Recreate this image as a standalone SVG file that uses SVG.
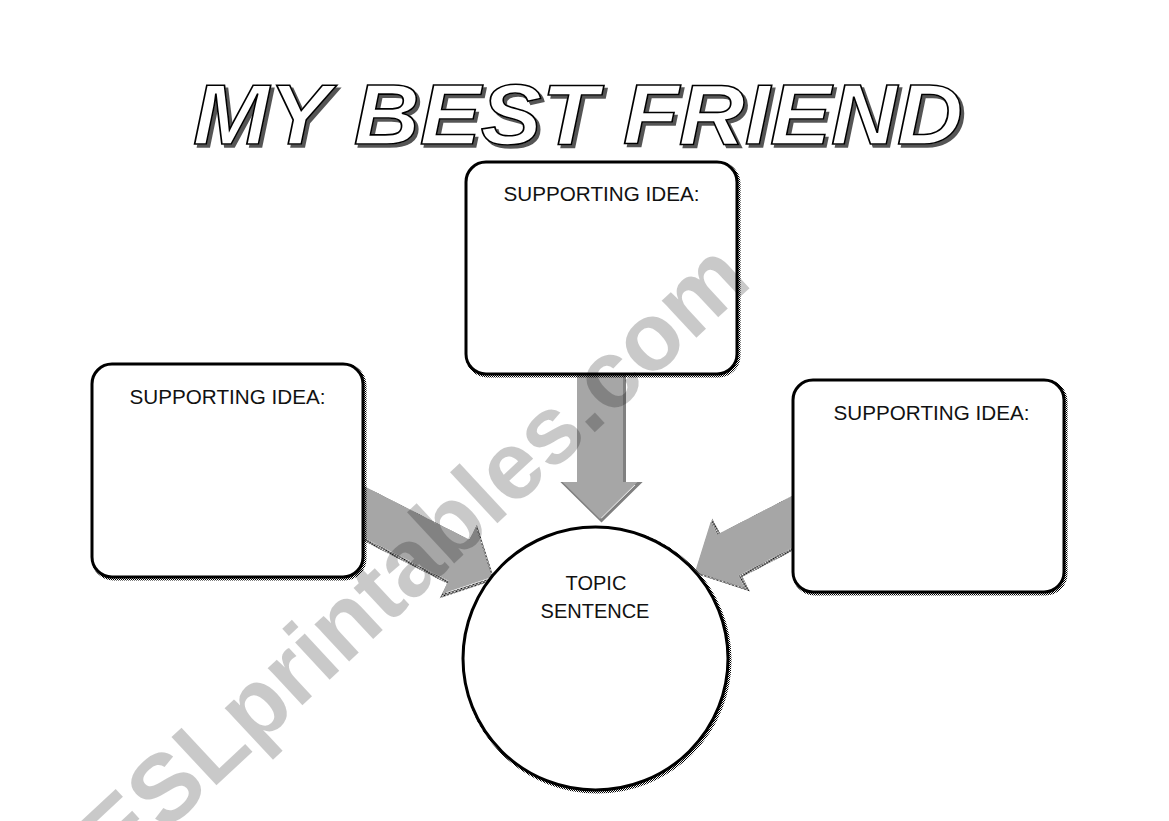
<svg xmlns="http://www.w3.org/2000/svg" width="1169" height="821" viewBox="0 0 1169 821">
  <defs>
    <pattern id="dots" width="2" height="2" patternUnits="userSpaceOnUse">
      <rect x="0" y="0" width="1" height="1" fill="#000"/>
      <rect x="1" y="1" width="1" height="1" fill="#000"/>
    </pattern>
    <filter id="titleShadow" x="-5%" y="-20%" width="110%" height="150%">
      <feOffset in="SourceAlpha" dx="3" dy="3" result="off"/>
      <feFlood flood-color="#555" result="col"/>
      <feComposite in="col" in2="off" operator="in" result="sh"/>
      <feMerge>
        <feMergeNode in="sh"/>
        <feMergeNode in="SourceGraphic"/>
      </feMerge>
    </filter>
    <path id="arrowShape" d="M -160,-23 H -37 V -37.5 L 0,0 L -37,37.5 V 23 H -160 Z"/>
    <style>
      .box { fill: #fff; stroke: #000; stroke-width: 3; }
      .shadow { fill: none; stroke: url(#dots); stroke-width: 4; }
      .arrow { fill: #a6a6a6; stroke: none; }
      .arrowShadow { fill: none; stroke: url(#dots); stroke-width: 3; }
      .label { font-family: "Liberation Sans", Arial, sans-serif; font-size: 20px; fill: #111; text-anchor: middle; }
      .title { font-family: "Liberation Sans", Arial, sans-serif; font-weight: bold; font-style: italic; font-size: 86px; fill: #fff; stroke: #000; stroke-width: 1.6; }
      .wm { font-family: "Liberation Sans", Arial, sans-serif; font-weight: bold; font-size: 96px; fill: #000; fill-opacity: 0.21; }
    </style>
  </defs>
  <rect width="1169" height="821" fill="#fff"/>

  <g id="title">
    <text class="title" x="193" y="144" textLength="770" lengthAdjust="spacingAndGlyphs" filter="url(#titleShadow)">MY BEST FRIEND</text>
  </g>

  <g id="connectors">
    <g transform="translate(600,519) rotate(90)">
      <use href="#arrowShape" class="arrowShadow" transform="translate(1.5,-1.5)"/>
      <use href="#arrowShape" class="arrow"/>
    </g>
    <g transform="translate(492,577) rotate(26.9)">
      <use href="#arrowShape" class="arrowShadow" transform="translate(1.5,1.5)"/>
      <use href="#arrowShape" class="arrow"/>
    </g>
    <g transform="translate(695,572) rotate(152.7)">
      <use href="#arrowShape" class="arrowShadow" transform="translate(-1.5,-1.5)"/>
      <use href="#arrowShape" class="arrow"/>
    </g>
  </g>

  <g id="node-top">
    <rect class="shadow" x="467.5" y="163.5" width="271" height="212" rx="20"/>
    <rect class="box" x="466" y="162" width="271" height="212" rx="20"/>
    <text class="label" x="601.5" y="201" textLength="196" lengthAdjust="spacingAndGlyphs">SUPPORTING IDEA:</text>
  </g>

  <g id="node-left">
    <rect class="shadow" x="93.5" y="365.5" width="271" height="213" rx="20"/>
    <rect class="box" x="92" y="364" width="271" height="213" rx="20"/>
    <text class="label" x="227.5" y="404" textLength="196" lengthAdjust="spacingAndGlyphs">SUPPORTING IDEA:</text>
  </g>

  <g id="node-right">
    <rect class="shadow" x="794.5" y="381.5" width="271" height="212" rx="20"/>
    <rect class="box" x="793" y="380" width="271" height="212" rx="20"/>
    <text class="label" x="931.5" y="420" textLength="196" lengthAdjust="spacingAndGlyphs">SUPPORTING IDEA:</text>
  </g>

  <g id="node-topic">
    <ellipse class="shadow" cx="597" cy="660" rx="132.5" ry="131.5"/>
    <ellipse class="box" cx="595.5" cy="658.5" rx="132.5" ry="131.5"/>
    <text class="label" x="596" y="590">TOPIC</text>
    <text class="label" x="595" y="618">SENTENCE</text>
  </g>

  <g id="watermark">
    <text class="wm" transform="translate(118,877) rotate(-43)">ESLprintables.com</text>
  </g>
</svg>
